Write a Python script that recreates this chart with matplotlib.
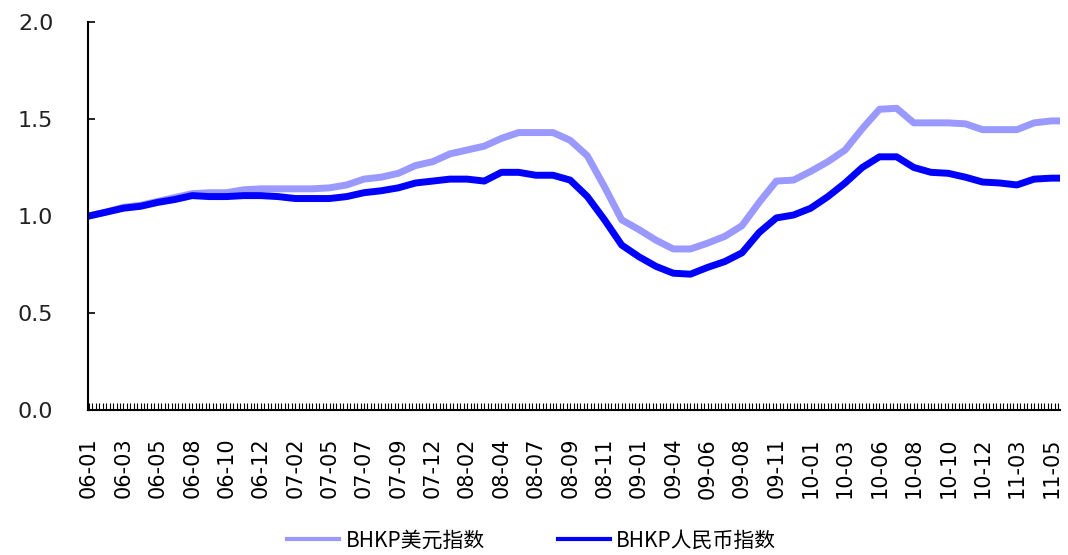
import matplotlib
matplotlib.use("Agg")
import matplotlib.pyplot as plt
from matplotlib.lines import Line2D

# weekly categories, 2006-01 .. 2011-06 (283 weeks); values sampled every 5 weeks
n_weeks = 283
sample_weeks = list(range(0, 281, 5)) + [282]

usd_index = [
    1.00, 1.02, 1.045, 1.055, 1.075, 1.095, 1.115, 1.12, 1.12, 1.135,
    1.14, 1.14, 1.14, 1.14, 1.145, 1.16, 1.19, 1.20, 1.22, 1.26,
    1.28, 1.32, 1.34, 1.36, 1.40, 1.43, 1.43, 1.43, 1.39, 1.31,
    1.15, 0.98, 0.93, 0.875, 0.83, 0.83, 0.86, 0.895, 0.95, 1.07,
    1.18, 1.185, 1.23, 1.28, 1.34, 1.45, 1.55, 1.555, 1.48, 1.48,
    1.48, 1.475, 1.445, 1.445, 1.445, 1.48, 1.49, 1.49,
]

rmb_index = [
    1.00, 1.02, 1.04, 1.05, 1.07, 1.085, 1.105, 1.10, 1.10, 1.105,
    1.105, 1.10, 1.09, 1.09, 1.09, 1.10, 1.12, 1.13, 1.145, 1.17,
    1.18, 1.19, 1.19, 1.18, 1.225, 1.225, 1.21, 1.21, 1.185, 1.10,
    0.98, 0.85, 0.79, 0.74, 0.705, 0.70, 0.735, 0.765, 0.81, 0.915,
    0.99, 1.005, 1.04, 1.10, 1.17, 1.25, 1.305, 1.305, 1.25, 1.225,
    1.22, 1.20, 1.175, 1.17, 1.16, 1.19, 1.195, 1.195,
]

# every 10th week is labelled
tick_labels = [
    "06-01", "06-03", "06-05", "06-08", "06-10", "06-12",
    "07-02", "07-05", "07-07", "07-09", "07-12",
    "08-02", "08-04", "08-07", "08-09", "08-11",
    "09-01", "09-04", "09-06", "09-08", "09-11",
    "10-01", "10-03", "10-06", "10-08", "10-10", "10-12",
    "11-03", "11-05",
]

usd_color = "#9999ff"
rmb_color = "#0000ff"
cjk = ["Noto Sans CJK SC", "DejaVu Sans"]

fig = plt.figure(figsize=(10.68, 5.55), dpi=100)
ax = fig.add_axes([0.0824, 0.2613, 0.910, 0.6991])

ax.plot(sample_weeks, usd_index, color=usd_color, linewidth=5)
ax.plot(sample_weeks, rmb_index, color=rmb_color, linewidth=5)

ax.set_xlim(-0.3, n_weeks - 0.5)
ax.set_ylim(0, 2.0)

ax.set_yticks([0.0, 0.5, 1.0, 1.5, 2.0])
ax.set_yticklabels([f"{v:.1f}" for v in [0.0, 0.5, 1.0, 1.5, 2.0]])
ax.tick_params(axis="y", direction="in", length=5, width=1.2, pad=25,
               labelsize=16, labelcolor="#222222")

ticks = list(range(n_weeks))
labels = [""] * n_weeks
for i, lab in enumerate(tick_labels):
    labels[i * 10] = lab
ax.set_xticks(ticks)
ax.set_xticklabels(labels, rotation=90)
ax.tick_params(axis="x", direction="in", length=5, width=0.8, pad=20,
               labelsize=15)

for side in ["top", "right"]:
    ax.spines[side].set_visible(False)
for side in ["left", "bottom"]:
    ax.spines[side].set_linewidth(1.5)

handles = [
    Line2D([], [], color=usd_color, linewidth=3),
    Line2D([], [], color=rmb_color, linewidth=3),
]
fig.legend(handles, ["BHKP美元指数", "BHKP人民币指数"], loc="center",
           bbox_to_anchor=(0.498, 0.026), ncol=2, frameon=False,
           handlelength=2.5, handletextpad=0.3, columnspacing=3.5,
           prop={"family": cjk, "size": 15})

fig.savefig("out.png", dpi=100)
